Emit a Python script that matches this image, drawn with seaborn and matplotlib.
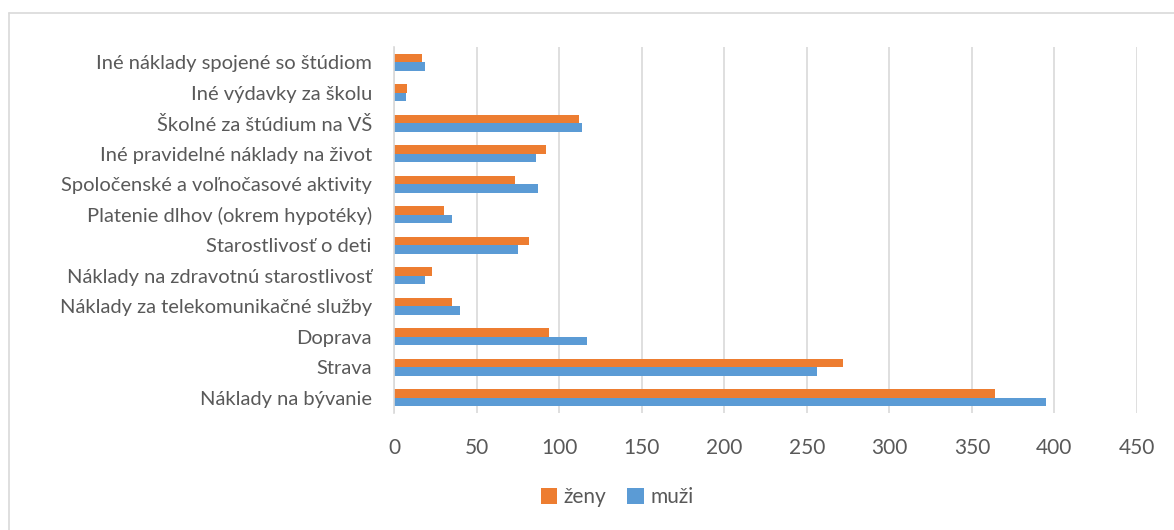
import matplotlib
matplotlib.use("Agg")
import matplotlib.pyplot as plt
from matplotlib.lines import Line2D
from matplotlib.patches import Patch
import seaborn as sns
import pandas as pd

# kategórie zhora nadol
categories = [
    "Iné náklady spojené so štúdiom",
    "Iné výdavky za školu",
    "Školné za štúdium na VŠ",
    "Iné pravidelné náklady na život",
    "Spoločenské a voľnočasové aktivity",
    "Platenie dlhov (okrem hypotéky)",
    "Starostlivosť o deti",
    "Náklady na zdravotnú starostlivosť",
    "Náklady za telekomunikačné služby",
    "Doprava",
    "Strava",
    "Náklady na bývanie",
]
zeny = [17, 8, 112, 92, 73, 30, 82, 23, 35, 94, 272, 364]
muzi = [19, 7, 114, 86, 87, 35, 75, 19, 40, 117, 256, 395]
series = ["ženy", "muži"]
xticks = [0, 50, 100, 150, 200, 250, 300, 350, 400, 450]

colors = {"ženy": "#ED7D31", "muži": "#5B9BD5"}
txt = "#595959"

df = pd.DataFrame({
    "kategoria": categories * 2,
    "hodnota": zeny + muzi,
    "pohlavie": ["ženy"] * len(categories) + ["muži"] * len(categories),
})

sns.set_style("white")
plt.rcParams["font.family"] = ["Lato", "DejaVu Sans"]

fig = plt.figure(figsize=(11.74, 5.30), dpi=100)
ax = fig.add_axes([394 / 1174, 1 - 413 / 530, (1137 - 394) / 1174, 366 / 530])

sns.barplot(data=df, y="kategoria", x="hodnota", hue="pohlavie",
            order=categories, hue_order=series, palette=colors,
            orient="h", width=0.56, gap=0, saturation=1, linewidth=0,
            ax=ax, legend=False)

ax.set_xlim(0, 450)
ax.set_xticks(xticks)
ax.set_xlabel("")
ax.set_ylabel("")
ax.grid(axis="x", color="#D9D9D9", linewidth=1.2)
ax.set_axisbelow(True)
for s in ["top", "right", "bottom"]:
    ax.spines[s].set_visible(False)
ax.spines["left"].set_color("#D9D9D9")
ax.spines["left"].set_linewidth(1.2)
ax.tick_params(axis="x", length=0, pad=18, labelsize=15, labelcolor=txt)
ax.tick_params(axis="y", length=0, pad=16, labelsize=14.5, labelcolor=txt)

handles = [Patch(facecolor=colors[s], edgecolor="none") for s in series]
fig.legend(handles, series, loc="center", bbox_to_anchor=(617 / 1174, 1 - 497 / 530),
           ncol=2, frameon=False, fontsize=15, labelcolor=txt,
           handlelength=0.8, handleheight=0.8, handletextpad=0.3, columnspacing=1.0)

# rámček grafu
fig.add_artist(Line2D([9 / 1174, 1.0], [1 - 13 / 530] * 2, color="#D9D9D9", lw=1.2))
fig.add_artist(Line2D([9 / 1174] * 2, [0, 1 - 13 / 530], color="#D9D9D9", lw=1.2))

fig.savefig("out.png", dpi=100)
